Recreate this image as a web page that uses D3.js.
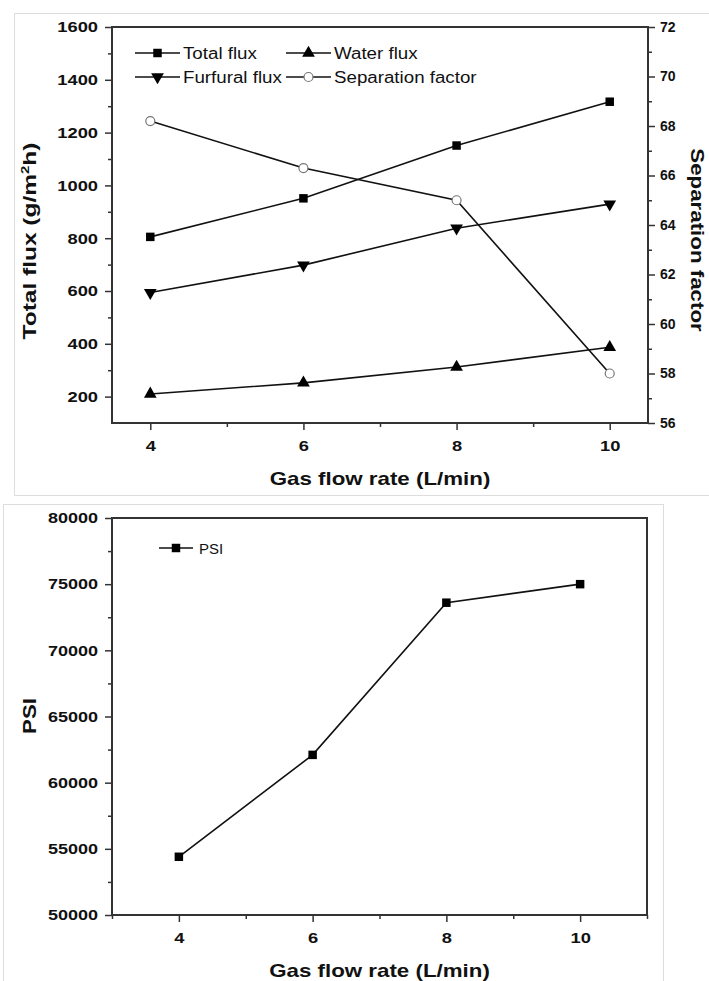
<!DOCTYPE html>
<html>
<head>
<meta charset="utf-8">
<script src="https://cdn.jsdelivr.net/npm/d3@7"></script>
<style>
  html, body { margin: 0; padding: 0; background: #fff; overflow: hidden; }
  svg { display: block; font-family: Arial, "Liberation Sans", sans-serif; }
  .tick text { font-weight: bold; fill: #111; }
  .axis-title { font-weight: bold; font-size: 18px; fill: #111; }
  .legend-text { font-size: 16px; fill: #111; }
</style>
</head>
<body>
<svg id="chart" width="709" height="981"></svg>
<script>
// ---- data ----
const gasFlow = [4, 6, 8, 10];
const totalFlux = [805, 951, 1151, 1317];
const waterFlux = [210, 252, 312, 387];
const furfuralFlux = [594, 698, 838, 929];
const sepFactor = [68.2, 66.3, 65.0, 58.0];
const psi = [54400, 62100, 73600, 75000];

const xTicksTop = [4, 6, 8, 10];
const xMinorTop = [5, 7, 9];
const yTicksFlux = [200, 400, 600, 800, 1000, 1200, 1400, 1600];
const yMinorFlux = [300, 500, 700, 900, 1100, 1300, 1500];
const yTicksSep = [56, 58, 60, 62, 64, 66, 68, 70, 72];
const yMinorSep = [57, 59, 61, 63, 65, 67, 69, 71];
const xTicksBot = [4, 6, 8, 10];
const xMinorBot = [3, 5, 7, 9, 11];
const yTicksPsi = [50000, 55000, 60000, 65000, 70000, 75000, 80000];
const yMinorPsi = [52500, 57500, 62500, 67500, 72500, 77500];

const svg = d3.select("#chart");
const axisColor = "#333";

// the original figure's lettering is a bit wider than Arial, so stretch it
function stretch(sel, f) {
  sel.each(function () {
    const w = this.getComputedTextLength();
    d3.select(this).attr("textLength", w * f).attr("lengthAdjust", "spacingAndGlyphs");
  });
}

// panel borders (light gray frames around each figure)
svg.append("rect").attr("x", 14.5).attr("y", 13.5).attr("width", 720).attr("height", 482)
  .attr("fill", "none").attr("stroke", "#ddd");
svg.append("rect").attr("x", 3.5).attr("y", 504.5).attr("width", 660).attr("height", 500)
  .attr("fill", "none").attr("stroke", "#ddd");

// helper: draw an axis with major labelled ticks and short minor ticks
function drawAxis(g, axisFn, scale, major, minor, fontSize, pad, widen) {
  const a = g.append("g").call(axisFn(scale).tickValues(major).tickSize(7).tickSizeOuter(0)
    .tickPadding(pad).tickFormat(d3.format("d")));
  a.select(".domain").remove();
  a.selectAll(".tick line").attr("stroke", axisColor).attr("stroke-width", 1.5);
  a.selectAll(".tick text").style("font-size", fontSize + "px");
  if (widen !== 1) stretch(a.selectAll(".tick text"), widen);
  const m = g.append("g").call(axisFn(scale).tickValues(minor).tickSize(4).tickSizeOuter(0).tickFormat(""));
  m.select(".domain").remove();
  m.selectAll(".tick line").attr("stroke", axisColor).attr("stroke-width", 1.5);
  return a;
}

const sym = (type, size) => d3.symbol().type(type).size(size)();

function drawMarker(g, kind, cx, cy) {
  if (kind === "square") {
    g.append("path").attr("d", sym(d3.symbolSquare, 72)).attr("transform", `translate(${cx},${cy})`).attr("fill", "#000");
  } else if (kind === "up") {
    g.append("path").attr("d", sym(d3.symbolTriangle, 70)).attr("transform", `translate(${cx},${cy})`).attr("fill", "#000");
  } else if (kind === "down") {
    g.append("path").attr("d", sym(d3.symbolTriangle, 70)).attr("transform", `translate(${cx},${cy}) rotate(180)`).attr("fill", "#000");
  } else {
    g.append("circle").attr("cx", cx).attr("cy", cy).attr("r", 4.5)
      .attr("fill", "#fff").attr("stroke", "#777").attr("stroke-width", 1.2);
  }
}

// ================= top chart =================
const topBox = { left: 112, right: 648, top: 27, bottom: 423 };
const x1 = d3.scaleLinear().domain([3.5, 10.5]).range([topBox.left, topBox.right]);
const yL = d3.scaleLinear().domain([100, 1600]).range([topBox.bottom, topBox.top]);
const yR = d3.scaleLinear().domain([56, 72]).range([topBox.bottom, topBox.top]);

const g1 = svg.append("g");
drawAxis(g1.append("g").attr("transform", `translate(0,${topBox.bottom})`), d3.axisBottom, x1, xTicksTop, xMinorTop, 15, 10, 1.22);
drawAxis(g1.append("g").attr("transform", `translate(${topBox.left},0)`), d3.axisLeft, yL, yTicksFlux, yMinorFlux, 15, 7, 1.22);
drawAxis(g1.append("g").attr("transform", `translate(${topBox.right},0)`), d3.axisRight, yR, yTicksSep, yMinorSep, 14, 5, 1);
g1.append("rect").attr("x", topBox.left).attr("y", topBox.top)
  .attr("width", topBox.right - topBox.left).attr("height", topBox.bottom - topBox.top)
  .attr("fill", "none").attr("stroke", axisColor).attr("stroke-width", 2);

const lineL = d3.line().x((d, i) => x1(gasFlow[i])).y(d => yL(d));
const lineR = d3.line().x((d, i) => x1(gasFlow[i])).y(d => yR(d));

const seriesTop = [
  { name: "Total flux", values: totalFlux, line: lineL, y: yL, marker: "square" },
  { name: "Water flux", values: waterFlux, line: lineL, y: yL, marker: "up" },
  { name: "Furfural flux", values: furfuralFlux, line: lineL, y: yL, marker: "down" },
  { name: "Separation factor", values: sepFactor, line: lineR, y: yR, marker: "circle" }
];

seriesTop.forEach(s => {
  g1.append("path").attr("d", s.line(s.values)).attr("fill", "none")
    .attr("stroke", "#111").attr("stroke-width", 1.6);
});
seriesTop.forEach(s => {
  s.values.forEach((v, i) => drawMarker(g1, s.marker, x1(gasFlow[i]), s.y(v)));
});

// legend
const legendPos = [[135, 53], [286, 53], [135, 77], [286, 77]];
seriesTop.forEach((s, i) => {
  const [lx, ly] = legendPos[i];
  const lg = g1.append("g");
  lg.append("line").attr("x1", lx).attr("x2", lx + 45).attr("y1", ly).attr("y2", ly)
    .attr("stroke", "#111").attr("stroke-width", 1.4);
  drawMarker(lg, s.marker, lx + 22.5, ly);
  const t = lg.append("text").attr("class", "legend-text").attr("x", lx + 48).attr("y", ly + 6).text(s.name);
  stretch(t, 1.17);
});

// axis titles
g1.append("text").attr("class", "axis-title").attr("text-anchor", "middle")
  .attr("transform", `translate(${(topBox.left + topBox.right) / 2},485) scale(1.24,1)`)
  .text("Gas flow rate (L/min)");
const lt = g1.append("text").attr("class", "axis-title").attr("text-anchor", "middle")
  .attr("transform", `translate(36,241) rotate(-90) scale(1.36,1)`);
lt.append("tspan").text("Total flux (g/m");
lt.append("tspan").attr("dy", -7).style("font-size", "11px").text("2");
lt.append("tspan").attr("dy", 7).text("h)");
g1.append("text").attr("class", "axis-title").attr("text-anchor", "middle")
  .attr("transform", `translate(691,240) rotate(90) scale(1.24,1)`).text("Separation factor");

// ================= bottom chart =================
const botBox = { left: 112, right: 647, top: 518, bottom: 915 };
const x2 = d3.scaleLinear().domain([3, 11]).range([botBox.left, botBox.right]);
const yP = d3.scaleLinear().domain([50000, 80000]).range([botBox.bottom, botBox.top]);

const g2 = svg.append("g");
drawAxis(g2.append("g").attr("transform", `translate(0,${botBox.bottom})`), d3.axisBottom, x2, xTicksBot, xMinorBot, 15, 10, 1.22);
drawAxis(g2.append("g").attr("transform", `translate(${botBox.left},0)`), d3.axisLeft, yP, yTicksPsi, yMinorPsi, 15, 7, 1.2);
g2.append("rect").attr("x", botBox.left).attr("y", botBox.top)
  .attr("width", botBox.right - botBox.left).attr("height", botBox.bottom - botBox.top)
  .attr("fill", "none").attr("stroke", axisColor).attr("stroke-width", 2);

const lineP = d3.line().x((d, i) => x2(gasFlow[i])).y(d => yP(d));
g2.append("path").attr("d", lineP(psi)).attr("fill", "none").attr("stroke", "#111").attr("stroke-width", 1.6);
psi.forEach((v, i) => drawMarker(g2, "square", x2(gasFlow[i]), yP(v)));

g2.append("line").attr("x1", 159).attr("x2", 193).attr("y1", 548).attr("y2", 548)
  .attr("stroke", "#111").attr("stroke-width", 1.4);
drawMarker(g2, "square", 176, 548);
g2.append("text").attr("class", "legend-text").style("font-size", "15px")
  .attr("x", 199).attr("y", 553.5).text("PSI");

g2.append("text").attr("class", "axis-title").attr("text-anchor", "middle")
  .attr("transform", `translate(${(botBox.left + botBox.right) / 2},977) scale(1.24,1)`)
  .text("Gas flow rate (L/min)");
g2.append("text").attr("class", "axis-title").attr("text-anchor", "middle")
  .attr("transform", `translate(36,716) rotate(-90) scale(1.24,1)`).text("PSI");
</script>
</body>
</html>
